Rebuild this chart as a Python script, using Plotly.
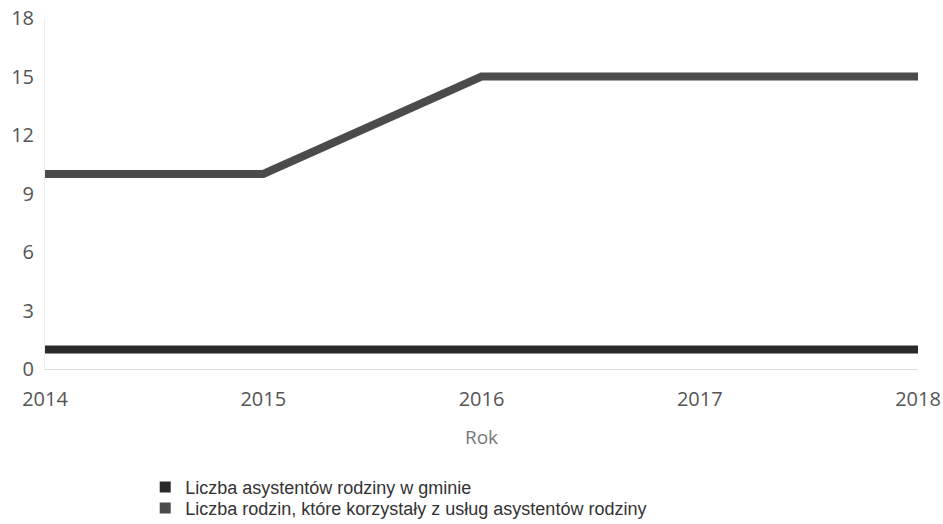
import plotly.graph_objects as go

years = [2014, 2015, 2016, 2017, 2018]
asystenci = [1, 1, 1, 1, 1]
rodziny = [10, 10, 15, 15, 15]
names = ["Liczba asystentów rodziny w gminie",
         "Liczba rodzin, które korzystały z usług asystentów rodziny"]
colors = ["#2a2a2a", "#4b4b4b"]
legend_ids = ["legend", "legend2"]

fig = go.Figure()
for vals, nm, c, lg in zip([asystenci, rodziny], names, colors, legend_ids):
    fig.add_trace(go.Scatter(x=years, y=vals, mode="lines", name=nm,
                             line=dict(color=c, width=8), showlegend=False))
    fig.add_trace(go.Scatter(x=[None], y=[None], mode="markers", name=nm, legend=lg,
                             marker=dict(symbol="square", size=11, color=c)))

leg_common = dict(xref="container", yref="container", xanchor="left", x=0.154,
                  yanchor="middle", bgcolor="rgba(0,0,0,0)", itemwidth=30,
                  font=dict(family="Liberation Sans", size=18, color="#333"))

fig.update_layout(
    width=943, height=524,
    margin=dict(l=45, r=25, t=18, b=155, autoexpand=False),
    paper_bgcolor="white", plot_bgcolor="white",
    font=dict(family="Open Sans", color="#555"),
    legend=dict(y=0.070, **leg_common),
    legend2=dict(y=0.030, **leg_common),
)
fig.update_xaxes(range=[2014, 2018], tickvals=years, ticktext=[str(y) for y in years],
                 showgrid=False, showline=True, linecolor="#ddd", linewidth=1,
                 tickfont=dict(size=20, color="#555"), ticklabelstandoff=12,
                 ticklabeloverflow="allow",
                 title=dict(text="Rok", font=dict(size=19, color="#777"), standoff=19),
                 zeroline=False, automargin=False)
fig.update_yaxes(range=[0, 18], dtick=3, showgrid=False, showline=True,
                 linecolor="#eee", linewidth=1, zeroline=False, automargin=False,
                 ticklabeloverflow="allow",
                 tickfont=dict(size=20, color="#555"), ticklabelstandoff=6)

fig.write_html("out.html", config={"displayModeBar": False},
               post_script="document.body.style.margin='0';document.body.style.overflow='hidden';")
